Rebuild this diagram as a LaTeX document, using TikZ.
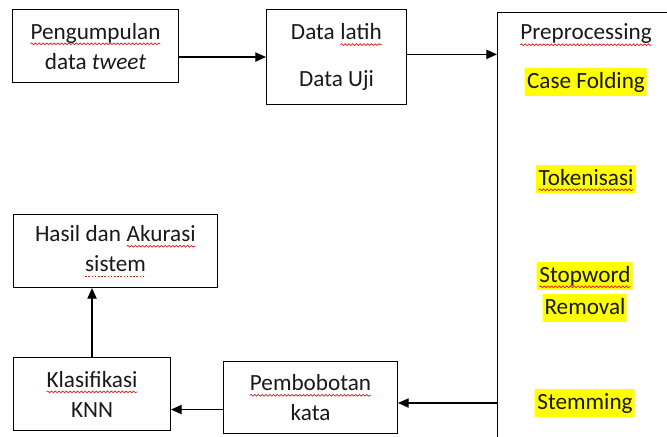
\documentclass[tikz,border=0pt]{standalone}
\usepackage{fontspec}
\setmainfont{Carlito}
\usetikzlibrary{arrows.meta, decorations.pathmorphing}
\definecolor{txt}{RGB}{25,25,25}
\definecolor{hl}{RGB}{255,255,0}
\definecolor{spellred}{RGB}{230,30,30}
\tikzset{
    inword/.style={inner sep=0pt, outer sep=0pt, draw=none, fill=none, minimum size=0pt,
        anchor=base, text height={}, text depth={}, text=txt},
    squiggle/.style={spellred, line width=0.55pt, decorate,
        decoration={snake, amplitude=0.65pt, segment length=2.8pt}},
    dotline/.style={spellred, line width=0.7pt, dash pattern=on 1.2pt off 1.2pt}
}
\newcommand\spell[1]{\tikz[baseline=(sw.base)]{\node[inword] (sw) {#1};
    \draw[squiggle] ([yshift=-3.6pt]sw.base west) -- ([yshift=-3.6pt]sw.base east);}}
\newcommand\gram[1]{\tikz[baseline=(gw.base)]{\node[inword] (gw) {#1};
    \draw[dotline] ([yshift=-3.6pt]gw.base west) -- ([yshift=-3.6pt]gw.base east);}}

\begin{document}
\begin{tikzpicture}[
    x=0.75pt, y=-0.75pt,
    flowbox/.style={
        draw,
        line width=0.8pt,
        anchor=north west,
        align=center,
        inner sep=0pt,
        font=\fontsize{17.4}{22.5}\selectfont,
        text=txt
    },
    hlword/.style={
        fill=hl,
        inner xsep=1.5pt,
        inner ysep=0pt,
        text height=15pt,
        text depth=6pt,
        font=\fontsize{17.4}{20}\selectfont,
        text=txt
    },
    plainword/.style={font=\fontsize{17.4}{20}\selectfont, text=txt, inner sep=0pt},
    flowarrow/.style={-{Triangle[length=8pt,width=7pt]}, line width=0.9pt}
]
\useasboundingbox (0,0) rectangle (667,436);
\clip (0,0) rectangle (667,436);

% === Top row ===
\node[flowbox, minimum width=124.5pt, minimum height=54.75pt] (peng) at (12,9) {\spell{Pengumpulan}\\data \emph{tweet}};
\node[flowbox, minimum width=105pt, minimum height=71.25pt] (latih) at (266,9) {Data \spell{latih}\\[12.5pt]Data Uji};

% === Preprocessing column ===
\node[flowbox, minimum width=150pt, minimum height=330pt] (prep) at (497,12) {};
\node[plainword] (pretitle) at (586,35) {\spell{Preprocessing}};
\node[hlword] (case) at (586,82) {Case Folding};
\node[hlword] (token) at (586,179) {\spell{Tokenisasi}};
\node[hlword] (stop) at (585,276) {\spell{Stopword}};
\node[hlword] (remov) at (585,308) {Removal};
\node[hlword] (stem) at (585,403) {Stemming};

% === Bottom row ===
\node[flowbox, minimum width=153pt, minimum height=54.75pt] (hasil) at (13,214) {Hasil dan \spell{Akurasi}\\\gram{sistem}};
\node[flowbox, minimum width=117.75pt, minimum height=54.75pt] (klas) at (13,357) {\spell{Klasifikasi}\\KNN};
\node[flowbox, minimum width=130.5pt, minimum height=54pt] (pemb) at (223,361) {\spell{Pembobotan}\\kata};

% === Arrows ===
\draw[flowarrow] (peng.east |- latih.west) -- (latih.west);
\draw[flowarrow] ([yshift=2pt]latih.east) -- ([yshift=2pt]latih.east -| prep.west);
\draw[flowarrow] (prep.west |- stem.center) -- (pemb.east |- stem.center);
\draw[flowarrow] ([yshift=-9pt]pemb.west) -- ([yshift=-9pt]pemb.west -| klas.east);
\draw[flowarrow] (klas.north) -- (klas.north |- hasil.south);

\end{tikzpicture}
\end{document}
